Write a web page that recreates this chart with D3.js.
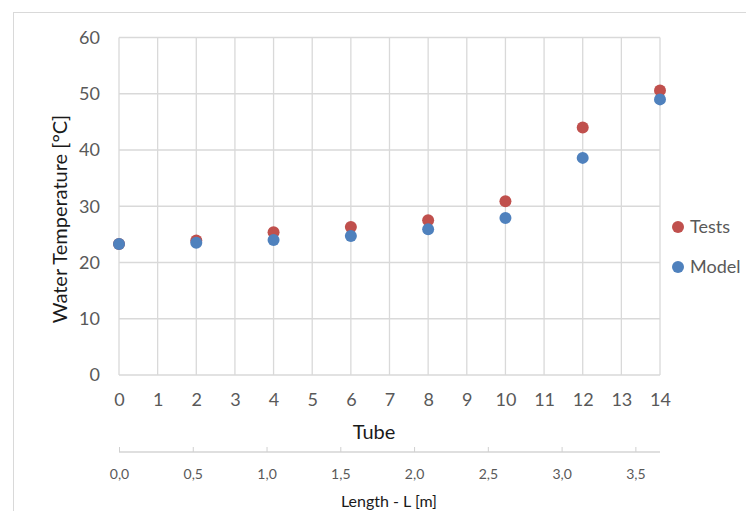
<!DOCTYPE html>
<html>
<head>
<meta charset="utf-8">
<script src="https://cdn.jsdelivr.net/npm/d3@7"></script>
<style>
  body { margin: 0; background: #fff; }
  svg { display: block; font-family: "Lato", "Open Sans", sans-serif; }
</style>
</head>
<body>
<div id="chart"></div>
<script>
// tube positions and measured / modelled water temperature
var tubes = [0, 2, 4, 6, 8, 10, 12, 14];
var tests = [23.3, 23.9, 25.4, 26.3, 27.5, 30.9, 44.0, 50.6];
var model = [23.3, 23.5, 24.0, 24.7, 25.9, 27.9, 38.6, 49.0];
var yTicks = [0, 10, 20, 30, 40, 50, 60];
var xTicks = [0, 1, 2, 3, 4, 5, 6, 7, 8, 9, 10, 11, 12, 13, 14];
var lengthTicks = [0, 0.5, 1.0, 1.5, 2.0, 2.5, 3.0, 3.5];
var lengthMax = 3.667;
var seriesNames = ["Tests", "Model"];
var seriesColors = ["#c0504d", "#4f81bd"];

var W = 746, H = 511;
var svg = d3.select("#chart").append("svg")
            .attr("width", W)
            .attr("height", H);

// chart frame
svg.append("rect")
   .attr("x", 13.5).attr("y", 12.5)
   .attr("width", 760).attr("height", 520)
   .attr("fill", "none")
   .attr("stroke", "#d9d9d9");

var x = d3.scaleLinear().domain([0, 14]).range([119, 660]);
var y = d3.scaleLinear().domain([0, 60]).range([375, 37.5]);
var xLen = d3.scaleLinear().domain([0, lengthMax]).range([119, 660]);

// grid
svg.append("g").selectAll("line")
   .data(yTicks)
   .enter().append("line")
   .attr("x1", x(0)).attr("x2", x(14))
   .attr("y1", d => y(d)).attr("y2", d => y(d))
   .attr("stroke", "#d9d9d9").attr("stroke-width", 1.3);
svg.append("g").selectAll("line")
   .data(xTicks)
   .enter().append("line")
   .attr("x1", d => x(d)).attr("x2", d => x(d))
   .attr("y1", y(0)).attr("y2", y(60))
   .attr("stroke", "#d9d9d9").attr("stroke-width", 1.3);

// y axis labels
var axisY = d3.axisLeft(y).tickValues(yTicks).tickSize(0).tickPadding(19);
var gy = svg.append("g").attr("transform", "translate(" + x(0) + ",0)").call(axisY);
gy.select(".domain").remove();
gy.selectAll("text").attr("font-size", 18).attr("fill", "#595959")
  .attr("font-family", "Lato, 'Open Sans', sans-serif");

// x axis labels
var axisX = d3.axisBottom(x).tickValues(xTicks).tickSize(0).tickPadding(18);
var gx = svg.append("g").attr("transform", "translate(0," + y(0) + ")").call(axisX);
gx.select(".domain").remove();
gx.selectAll("text").attr("font-size", 18).attr("fill", "#595959")
  .attr("font-family", "Lato, 'Open Sans', sans-serif");

// secondary length axis
var axisL = d3.axisTop(xLen).tickValues(lengthTicks).tickSize(5)
              .tickFormat(d => d3.format(".1f")(d).replace(".", ","));
var gl = svg.append("g").attr("transform", "translate(0,452)").call(axisL);
gl.select(".domain").attr("stroke", "#bfbfbf").attr("d", "M" + xLen(0) + ",0H" + xLen(lengthMax));
gl.selectAll(".tick line").attr("stroke", "#d0d0d0");
gl.selectAll("text").attr("y", 27).attr("font-size", 14).attr("fill", "#595959")
  .attr("font-family", "Lato, 'Open Sans', sans-serif");

// titles
svg.append("text")
   .attr("x", 374).attr("y", 439)
   .attr("text-anchor", "middle")
   .attr("font-size", 20).attr("fill", "#1a1a1a")
   .text("Tube");
svg.append("text")
   .attr("x", 389).attr("y", 507)
   .attr("text-anchor", "middle")
   .attr("font-size", 16).attr("fill", "#1a1a1a")
   .text("Length - L [m]");
svg.append("text")
   .attr("transform", "translate(67,219) rotate(-90)")
   .attr("text-anchor", "middle")
   .attr("font-size", 20).attr("fill", "#1a1a1a")
   .text("Water Temperature [°C]");

// points
[tests, model].forEach(function(vals, s) {
    svg.append("g").selectAll("circle")
       .data(vals)
       .enter().append("circle")
       .attr("cx", (d, i) => x(tubes[i]))
       .attr("cy", d => y(d))
       .attr("r", 6)
       .attr("fill", seriesColors[s]);
});

// legend
var legend = svg.append("g").selectAll("g")
                .data(seriesNames)
                .enter().append("g")
                .attr("transform", (d, i) => "translate(678," + (227 + i * 40) + ")");
legend.append("circle").attr("r", 6).attr("fill", (d, i) => seriesColors[i]);
legend.append("text")
      .attr("x", 12).attr("y", 6)
      .attr("font-size", 18).attr("fill", "#595959")
      .text(d => d);
</script>
</body>
</html>
